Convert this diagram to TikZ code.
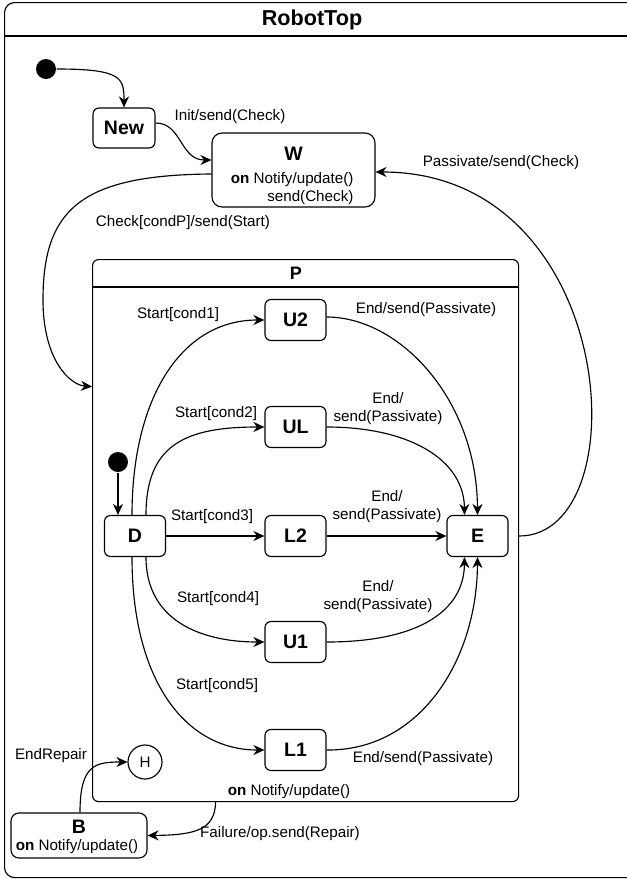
\documentclass[tikz,border=0pt]{standalone}
\usepackage{fontspec}
\setmainfont{Liberation Sans}
\usetikzlibrary{arrows.meta}
\begin{document}
\begin{tikzpicture}[x=1pt,y=-1pt,line width=1.15pt,
  lbl/.style={font=\fontsize{15.2}{18}\selectfont, inner sep=0pt, align=center},
  title/.style={font=\fontsize{19.5}{22}\selectfont\bfseries, inner sep=0pt},
  state/.style={draw, rounded corners=6pt, minimum width=61pt, minimum height=41pt,
    inner sep=0pt, font=\fontsize{19.5}{22}\selectfont\bfseries},
  initdot/.style={circle, fill=black, minimum size=20pt, inner sep=0pt},
  tr/.style={-{Stealth[length=11pt,width=10pt,inset=3.5pt]}},
]
\useasboundingbox (0,0) rectangle (627,879);
\clip (0,0) rectangle (627,879);

% outer composite state
\node[draw, rounded corners=10pt, minimum width=640pt, minimum height=875pt,
      anchor=north west, inner sep=0pt] (robot) at (4,2) {};
\draw (4,36) -- (644,36);
\node[font=\fontsize{21.6}{24}\selectfont\bfseries, inner sep=0pt] (robotname) at (312,20) {RobotTop};

% top level states
\node[initdot] (init) at (46,69) {};
\node[state, minimum width=62pt, minimum height=40pt] (New) at (124,128) {New};
\node[draw, rounded corners=10pt, minimum width=163pt, minimum height=74pt] (W) at (293.5,170) {};
\node[title] (Wname) at (293.5,154) {W};
\node[lbl, align=right, anchor=north east] (Wbody) at (354,172) {\textbf{on} Notify/update()\\send(Check)};

% composite state P
\node[draw, rounded corners=6pt, minimum width=426pt, minimum height=542pt,
      anchor=north west, inner sep=0pt] (P) at (92,259) {};
\draw (92,287) -- (518,287);
\node[title, font=\fontsize{18}{20}\selectfont\bfseries] (Pname) at (296,273) {P};

\node[initdot] (pinit) at (118,462) {};
\node[state] (D) at (135,536) {D};
\node[state] (U2) at (295.5,320) {U2};
\node[state] (UL) at (295.5,427) {UL};
\node[state] (L2) at (295.5,536) {L2};
\node[state] (U1) at (295.5,642) {U1};
\node[state] (L1) at (295.5,750) {L1};
\node[state] (E) at (477.5,536) {E};
\node[draw, circle, minimum size=34pt, inner sep=0pt, font=\fontsize{15.2}{18}\selectfont] (H) at (145,762) {H};

% state B
\node[draw, rounded corners=8pt, minimum width=136pt, minimum height=45pt] (B) at (79,835.5) {};
\node[title] (Bname) at (79,827) {B};
\node[lbl] (Bbody) at (77,847) {\textbf{on} Notify/update()};

% transitions at top level
\draw[tr] (init.east) .. controls (122,69) and (124,78) .. (New.north);
\draw[tr] ([yshift=5pt]New.east) .. controls (182,123) and (180,160) .. ([yshift=10pt]W.west);
\draw[tr] ([yshift=-4pt]W.west) .. controls (80,175) and (43,210) .. (43,300)
          .. controls (43,360) and (70,385) .. ([yshift=144pt]P.west);
\draw[tr] (P.east |- E.east) .. controls (640,536) and (620,172) .. ([yshift=-2pt]W.east);
\draw[tr] ([xshift=-90pt]P.south) .. controls (215,830) and (195,835) .. (B.east);
\draw[tr] ([xshift=1pt]B.north) .. controls (80,765) and (95,762) .. (H.west);

% transitions inside P
\draw[tr] (pinit.south) -- (pinit.south |- D.north);
\draw[tr] ([xshift=-3pt]D.north) .. controls (132,400) and (180,320) .. (U2.west);
\draw[tr] ([xshift=11pt]D.north) .. controls (146,445) and (185,427) .. (UL.west);
\draw[tr] (D.east) -- (L2.west);
\draw[tr] ([xshift=11pt]D.south) .. controls (146,620) and (200,642) .. (U1.west);
\draw[tr] ([xshift=-3pt]D.south) .. controls (132,680) and (185,750) .. (L1.west);
\draw[tr] ([yshift=3pt]U2.east) .. controls (400,317) and (477,400) .. (E.north);
\draw[tr] (UL.east) .. controls (410,427) and (464,460) .. ([xshift=-13pt]E.north);
\draw[tr] (L2.east) -- (E.west);
\draw[tr] (U1.east) .. controls (420,642) and (464,610) .. ([xshift=-13pt]E.south);
\draw[tr] (L1.east) .. controls (420,751) and (477,660) .. (E.south);

% transition labels
\node[lbl] (l1) at (230,117) {Init/send(Check)};
\node[lbl] (l2) at (501,163) {Passivate/send(Check)};
\node[lbl] (l3) at (183,223) {Check[condP]/send(Start)};
\node[lbl] (l4) at (178,315) {Start[cond1]};
\node[lbl] (l5) at (426,310) {End/send(Passivate)};
\node[lbl] (l6) at (216,414) {Start[cond2]};
\node[lbl] (l7) at (388,409) {End/\\send(Passivate)};
\node[lbl] (l8) at (212,517) {Start[cond3]};
\node[lbl] (l9) at (387,507) {End/\\send(Passivate)};
\node[lbl] (l10) at (218,599) {Start[cond4]};
\node[lbl] (l11) at (378,597) {End/\\send(Passivate)};
\node[lbl] (l12) at (217,686) {Start[cond5]};
\node[lbl] (l13) at (423,759) {End/send(Passivate)};
\node[lbl] (l14) at (51,756) {EndRepair};
\node[lbl] (l15) at (289,792) {\textbf{on} Notify/update()};
\node[lbl] (l16) at (280,834) {Failure/op.send(Repair)};
\end{tikzpicture}
\end{document}
